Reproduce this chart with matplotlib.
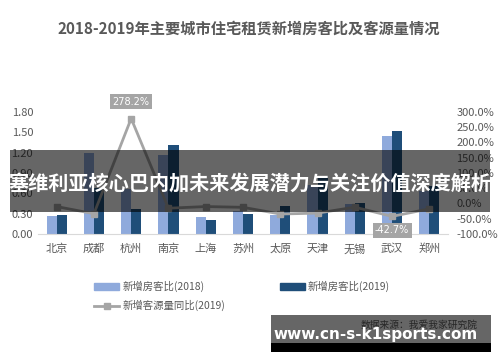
import matplotlib
matplotlib.use("Agg")
import matplotlib.pyplot as plt
import numpy as np
from matplotlib.patches import Rectangle
from matplotlib.lines import Line2D
from matplotlib.patches import Patch

plt.rcParams['font.family'] = ['Noto Sans CJK SC', 'DejaVu Sans']

cities = ['北京', '成都', '杭州', '南京', '上海', '苏州', '太原', '天津', '无锡', '武汉', '郑州']
ratio_2018 = [0.27, 1.19, 0.66, 1.17, 0.25, 0.33, 0.28, 0.72, 0.44, 1.45, 0.63]
ratio_2019 = [0.28, 0.67, 0.36, 1.31, 0.20, 0.30, 0.41, 0.85, 0.46, 1.52, 0.70]
yoy_2019 = [-10.5, -34.0, 278.2, -16.0, -10.5, -13.0, -35.0, -32.0, -12.5, -42.7, -18.0]

left_ticks = [0.0, 0.3, 0.6, 0.9, 1.2, 1.5, 1.8]
right_ticks = [-100, -50, 0, 50, 100, 150, 200, 250, 300]

title = '2018-2019年主要城市住宅租赁新增房客比及客源量情况'
banner = '塞维利亚核心巴内加未来发展潜力与关注价值深度解析'
source = '数据来源：我爱我家研究院'
site = 'www.cn-s-k1sports.com'

c18 = '#8FAADC'
c19 = '#1F4E79'
cline = '#A5A5A5'
tcol = '#595959'

fig = plt.figure(figsize=(5.0, 3.62), dpi=100)
ax = fig.add_axes([0.076, 0.354, 0.82, 0.337])
x = np.arange(len(cities))
w = 0.27
ax.bar(x - w/2, ratio_2018, w, color=c18, zorder=2)
ax.bar(x + w/2, ratio_2019, w, color=c19, zorder=2)
ax.set_xlim(-0.5, len(cities) - 0.5)
ax.set_ylim(0, 1.8)
ax.set_yticks(left_ticks)
ax.set_yticklabels(['%.2f' % v for v in left_ticks])
ax.set_xticks(x)
ax.set_xticklabels(cities)
ax.tick_params(length=0, labelsize=8, colors=tcol)
ax.tick_params(axis='x', pad=7)
for s in ['top', 'right', 'left']:
    ax.spines[s].set_visible(False)
ax.spines['bottom'].set_color('#D9D9D9')

ax2 = ax.twinx()
ax2.plot(x, yoy_2019, color=cline, lw=2, marker='s', ms=5, zorder=3)
ax2.set_ylim(-100, 300)
ax2.set_yticks(right_ticks)
ax2.set_yticklabels(['%.1f%%' % v for v in right_ticks])
ax2.tick_params(length=0, labelsize=8, colors=tcol, pad=6)
for s in ['top', 'right', 'left', 'bottom']:
    ax2.spines[s].set_visible(False)

bbox = dict(boxstyle='square,pad=0.25', fc=cline, ec='none')
i = 2
ax2.annotate('%.1f%%' % yoy_2019[i], (x[i], yoy_2019[i]), xytext=(0, 12), textcoords='offset points',
             ha='center', va='center', fontsize=7, color='white', bbox=bbox, family='DejaVu Sans')
i = 9
ax2.annotate('%.1f%%' % yoy_2019[i], (x[i], yoy_2019[i]), xytext=(0, -10), textcoords='offset points',
             ha='center', va='center', fontsize=7, color='white', bbox=bbox, family='DejaVu Sans')

fig.text(0.497, 0.92, title, ha='center', va='center', fontsize=11, fontweight='bold', color=tcol)

handles = [Patch(color=c18), Line2D([0], [0], color=cline, lw=2, marker='s', ms=4), Patch(color=c19)]
labels = ['新增房客比(2018)', '新增客源量同比(2019)', '新增房客比(2019)']
fig.legend(handles, labels, ncol=2, loc='upper left', bbox_to_anchor=(0.17, 0.25), frameon=False,
           fontsize=7.5, labelcolor=tcol, handlelength=2.4, handleheight=0.6, columnspacing=5.2,
           handletextpad=0.3, labelspacing=0.75)

# banner overlay
fig.patches.append(Rectangle((10/500, 1-212/362), 480/500, 62/362, transform=fig.transFigure,
                             fc='black', alpha=0.6, ec='none', zorder=10))
fig.text(0.5, 1-183/362, banner, ha='center', va='center', fontsize=14.5, fontweight='bold',
         color='white', zorder=11)

# watermark
fig.patches.append(Rectangle((271/500, 1-343/362), 220/500, 28/362, transform=fig.transFigure,
                             fc='#666666', ec='none', zorder=10))
fig.patches.append(Rectangle((271/500, 1-352/362), 220/500, 9/362, transform=fig.transFigure,
                             fc='black', ec='none', zorder=10))
fig.text(478/500, 1-325/362, source, ha='right', va='center', fontsize=7, color='#262626', zorder=11)
fig.text(273/500, 1-335/362, site, ha='left', va='center', fontsize=11, fontweight='bold',
         color='white', zorder=11, family='DejaVu Sans')

fig.savefig('out.png', dpi=100)
